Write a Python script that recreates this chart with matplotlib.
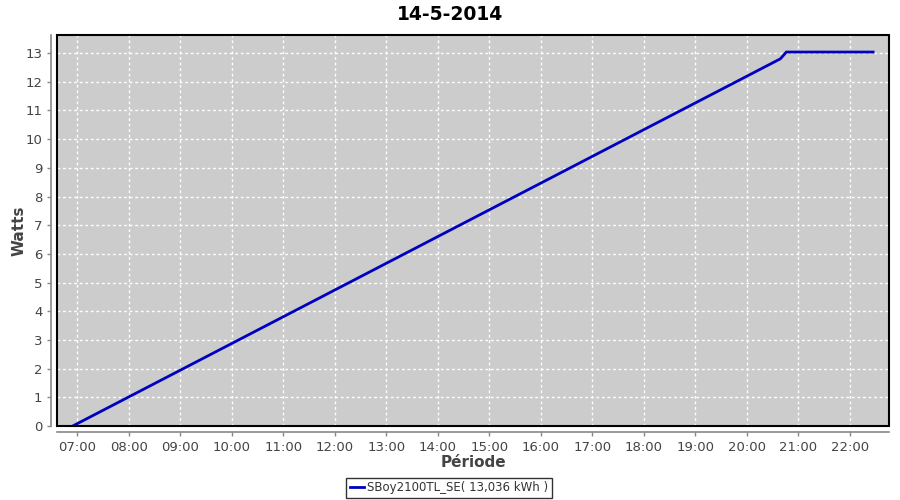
import matplotlib
matplotlib.use("Agg")
import matplotlib.pyplot as plt
import matplotlib.dates as mdates
from matplotlib.lines import Line2D
from matplotlib.patches import Rectangle
import datetime as dt

# Data
times = ["06:55", "20:39", "20:46", "22:27"]
values = [0.0, 12.8, 13.036, 13.036]
series_label = "SBoy2100TL_SE( 13,036 kWh )"
title = "14-5-2014"
hour_ticks = list(range(7, 23))
y_ticks = list(range(0, 14))

day = dt.date(2014, 5, 14)
def to_dt(s):
    h, m = map(int, s.split(":"))
    return dt.datetime(day.year, day.month, day.day, h, m)

x = [to_dt(t) for t in times]

plt.rcParams['font.family'] = ['DejaVu Sans']
fig = plt.figure(figsize=(9, 5), dpi=100)
ax = fig.add_axes([57/900, 1-426/500, (889-57)/900, (426-35)/500])
ax.set_facecolor('#cccccc')

ax.plot(x, values, color='#0000c0', linewidth=2, label=series_label, solid_joinstyle='miter', zorder=4)

ax.set_xlim(dt.datetime(2014, 5, 14, 6, 36, 40), dt.datetime(2014, 5, 14, 22, 45, 30))
ax.set_ylim(0, 13.63)
ax.set_xticks([dt.datetime(2014, 5, 14, h, 0) for h in hour_ticks])
ax.xaxis.set_major_formatter(mdates.DateFormatter('%H:%M'))
ax.set_yticks(y_ticks)

ax.grid(True, color='white', linestyle=(0, (2, 2)), linewidth=1)
ax.set_axisbelow(True)

for s in ['top', 'right']:
    ax.spines[s].set_visible(False)
for s in ['left', 'bottom']:
    ax.spines[s].set_position(('outward', 4))
    ax.spines[s].set_color('#888888')
    ax.spines[s].set_linewidth(1.2)
ax.add_patch(Rectangle((0, 0), 1, 1, transform=ax.transAxes, fill=False,
                       edgecolor='black', linewidth=1.5, zorder=5, clip_on=False))

ax.tick_params(axis='both', colors='#888888', labelcolor='#444444', labelsize=9.5, length=3, width=1)

fig.text(0.5, 1-14/500, title, fontsize=13.5, fontweight='bold', color='black',
         ha='center', va='center')
ax.set_xlabel("Période", fontsize=11, fontweight='bold', color='#444444', labelpad=1)
ax.set_ylabel("Watts", fontsize=11, fontweight='bold', color='#444444')
ax.yaxis.set_label_coords((27-57)/832, 0.5)

leg = fig.legend(handles=[Line2D([0], [0], color='#0000c0', linewidth=2)], labels=[series_label],
                 loc='center', bbox_to_anchor=(449/900, 1-488/500), frameon=True, fancybox=False,
                 fontsize=8.5, handlelength=1.2, handletextpad=0.3, borderpad=0.3, borderaxespad=0)
leg.get_frame().set_edgecolor('black')
leg.get_frame().set_linewidth(1)
for t in leg.get_texts():
    t.set_color('#333333')

fig.savefig('out.png', dpi=100)
